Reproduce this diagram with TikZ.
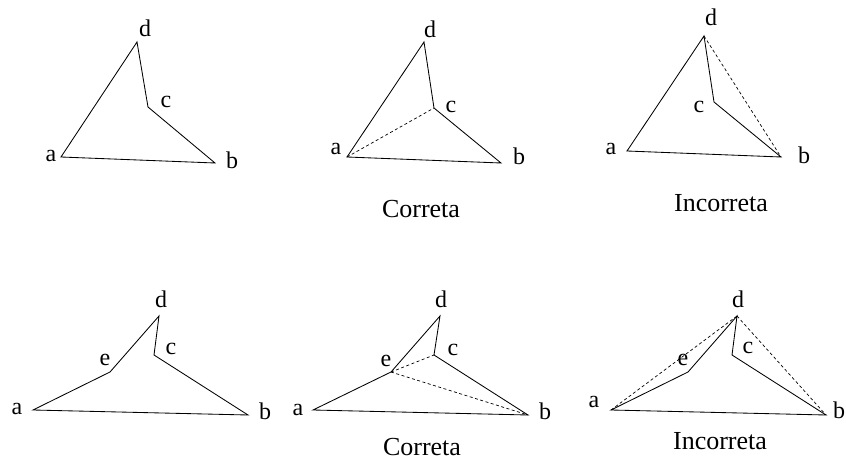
\documentclass[tikz,border=0pt]{standalone}
\usepackage{fontspec}
\setmainfont{Liberation Serif}
\begin{document}
\begin{tikzpicture}[x=1pt,y=-1pt,
  edge/.style={line width=0.85pt},
  hidden/.style={line width=0.7pt,dash pattern=on 3pt off 2.5pt},
  lbl/.style={inner sep=0pt,font=\fontsize{24}{24}\selectfont},
  caption/.style={inner sep=0pt,font=\fontsize{26}{26}\selectfont}]
\useasboundingbox (0,0) rectangle (846,465);
% Panel 1
\coordinate (a1) at (61,157); \coordinate (b1) at (215,163);
\coordinate (c1) at (148,107); \coordinate (d1) at (137,42);
\draw[edge] (a1) -- (b1) -- (c1) -- (d1) -- cycle;
\node[lbl] (la1) at (51,156) {a};
\node[lbl] (lb1) at (232,160) {b};
\node[lbl] (lc1) at (166,102) {c};
\node[lbl] (ld1) at (145,28) {d};
% Panel 2
\coordinate (a2) at (347,157); \coordinate (b2) at (501,163);
\coordinate (c2) at (434,108); \coordinate (d2) at (424,42);
\draw[edge] (a2) -- (b2) -- (c2) -- (d2) -- cycle;
\draw[hidden] (a2) -- (c2);
\node[lbl] (la2) at (336,149) {a};
\node[lbl] (lb2) at (519,156) {b};
\node[lbl] (lc2) at (451,107) {c};
\node[lbl] (ld2) at (430,29) {d};
\node[caption] (cap2) at (421,209) {Correta};
% Panel 3
\coordinate (a3) at (627,151); \coordinate (b3) at (781,157);
\coordinate (c3) at (714,102); \coordinate (d3) at (704,36);
\draw[edge] (a3) -- (b3) -- (c3) -- (d3) -- cycle;
\draw[hidden] (d3) -- (b3);
\node[lbl] (la3) at (611,149) {a};
\node[lbl] (lb3) at (804,155) {b};
\node[lbl] (lc3) at (699,107) {c};
\node[lbl] (ld3) at (711,17) {d};
\node[caption] (cap3) at (721,203) {Incorreta};
% Panel 4
\coordinate (a4) at (33,410); \coordinate (b4) at (248,415);
\coordinate (c4) at (154,355); \coordinate (d4) at (159,316);
\coordinate (e4) at (110,372);
\draw[edge] (a4) -- (b4) -- (c4) -- (d4) -- (e4) -- cycle;
\node[lbl] (la4) at (17,409) {a};
\node[lbl] (lb4) at (265,411) {b};
\node[lbl] (lc4) at (171,349) {c};
\node[lbl] (ld4) at (161,299) {d};
\node[lbl] (le4) at (105,360) {e};
% Panel 5
\coordinate (a5) at (313,410); \coordinate (b5) at (528,415);
\coordinate (c5) at (434,355); \coordinate (d5) at (440,316);
\coordinate (e5) at (391,372);
\draw[edge] (a5) -- (b5) -- (c5) -- (d5) -- (e5) -- cycle;
\draw[hidden] (e5) -- (c5);
\draw[hidden] (e5) -- (b5);
\node[lbl] (la5) at (298,410) {a};
\node[lbl] (lb5) at (545,411) {b};
\node[lbl] (lc5) at (453,350) {c};
\node[lbl] (ld5) at (441,299) {d};
\node[lbl] (le5) at (386,361) {e};
\node[caption] (cap5) at (422,447) {Correta};
% Panel 6
\coordinate (a6) at (611,410); \coordinate (b6) at (826,415);
\coordinate (c6) at (732,355); \coordinate (d6) at (737,316);
\coordinate (e6) at (688,372);
\draw[edge] (a6) -- (b6) -- (c6) -- (d6) -- (e6) -- cycle;
\draw[hidden] (a6) -- (d6);
\draw[hidden] (d6) -- (b6);
\node[lbl] (la6) at (594,402) {a};
\node[lbl] (lb6) at (839,410) {b};
\node[lbl] (lc6) at (748,348) {c};
\node[lbl] (ld6) at (738,299) {d};
\node[lbl] (le6) at (683,360) {e};
\node[caption] (cap6) at (720,441) {Incorreta};
\end{tikzpicture}
\end{document}
